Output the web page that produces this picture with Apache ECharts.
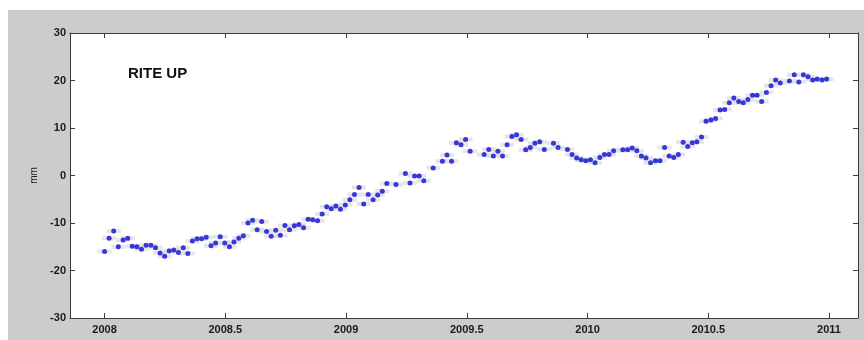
<!DOCTYPE html>
<html>
<head>
<meta charset="utf-8">
<script src="https://cdn.jsdelivr.net/npm/echarts@6/dist/echarts.min.js"></script>
<style>
  html, body { margin: 0; padding: 0; background: #ffffff; }
  #chart { width: 864px; height: 340px; }
</style>
</head>
<body>
<div id="chart"></div>
<script>
// Weekly GPS solution epochs (decimal years) for station RITE, vertical component
const epochs = [
  2008.000, 2008.019, 2008.038, 2008.057, 2008.077, 2008.096, 2008.115, 2008.134, 2008.153, 2008.172,
  2008.192, 2008.211, 2008.230, 2008.249, 2008.268, 2008.287, 2008.306, 2008.326, 2008.345, 2008.364,
  2008.383, 2008.402, 2008.421, 2008.441, 2008.460, 2008.479, 2008.498, 2008.517, 2008.536, 2008.556,
  2008.575, 2008.594, 2008.613, 2008.632, 2008.651, 2008.671, 2008.690, 2008.709, 2008.728, 2008.747,
  2008.766, 2008.786, 2008.805, 2008.824, 2008.843, 2008.862, 2008.882, 2008.901, 2008.920, 2008.939,
  2008.958, 2008.977, 2008.997, 2009.016, 2009.035, 2009.054, 2009.073, 2009.092, 2009.112, 2009.131,
  2009.150, 2009.169, 2009.207, 2009.246, 2009.265, 2009.284, 2009.303, 2009.322, 2009.361, 2009.399,
  2009.418, 2009.437, 2009.457, 2009.476, 2009.495, 2009.514, 2009.572, 2009.591, 2009.610, 2009.629,
  2009.648, 2009.667, 2009.687, 2009.706, 2009.725, 2009.744, 2009.763, 2009.782, 2009.802, 2009.821,
  2009.859, 2009.878, 2009.917, 2009.936, 2009.955, 2009.974, 2009.993, 2010.012, 2010.031, 2010.051,
  2010.070, 2010.089, 2010.108, 2010.146, 2010.166, 2010.185, 2010.204, 2010.223, 2010.242, 2010.261,
  2010.281, 2010.300, 2010.319, 2010.338, 2010.357, 2010.376, 2010.396, 2010.415, 2010.434, 2010.453,
  2010.472, 2010.491, 2010.511, 2010.530, 2010.549, 2010.568, 2010.587, 2010.606, 2010.626, 2010.645,
  2010.664, 2010.683, 2010.702, 2010.721, 2010.741, 2010.760, 2010.779, 2010.798, 2010.836, 2010.856,
  2010.875, 2010.894, 2010.913, 2010.932, 2010.951, 2010.971, 2010.990
];

// Vertical displacement (mm)
const upMM = [
  -16.0, -13.2, -11.7, -15.0, -13.6, -13.2, -14.9, -15.0, -15.5, -14.7,
  -14.7, -15.2, -16.3, -17.0, -15.9, -15.7, -16.2, -15.2, -16.4, -13.8,
  -13.3, -13.3, -13.0, -14.8, -14.2, -12.9, -14.2, -15.0, -14.0, -13.2,
  -12.7, -10.0, -9.4, -11.4, -9.7, -11.8, -12.8, -11.5, -12.6, -10.5,
  -11.4, -10.6, -10.3, -11.0, -9.2, -9.3, -9.5, -8.1, -6.6, -7.0,
  -6.4, -7.1, -6.2, -5.1, -4.0, -2.5, -6.0, -4.0, -5.1, -4.1,
  -3.3, -1.7, -1.9, 0.4, -1.6, -0.1, -0.1, -1.1, 1.6, 3.0,
  4.3, 3.0, 6.9, 6.5, 7.6, 5.1, 4.4, 5.5, 4.1, 5.1,
  4.1, 6.5, 8.2, 8.6, 7.6, 5.4, 5.9, 6.8, 7.1, 5.5,
  6.8, 5.9, 5.5, 4.4, 3.7, 3.3, 3.1, 3.3, 2.7, 3.8,
  4.4, 4.4, 5.2, 5.4, 5.4, 5.8, 5.2, 4.1, 3.7, 2.7,
  3.1, 3.1, 5.9, 4.1, 3.8, 4.4, 7.0, 6.1, 6.9, 7.1,
  8.1, 11.4, 11.7, 12.0, 13.8, 13.9, 15.3, 16.3, 15.6, 15.3,
  16.0, 16.9, 16.9, 15.6, 17.5, 18.9, 20.1, 19.5, 19.9, 21.2,
  19.7, 21.2, 20.8, 20.1, 20.3, 20.1, 20.3
];

const xTicks = [2008, 2008.5, 2009, 2009.5, 2010, 2010.5, 2011];
const yTicks = [-30, -20, -10, 0, 10, 20, 30];
const stationLabel = 'RITE UP';
const unitLabel = 'mm';

const points = epochs.map((t, i) => [t, upMM[i]]);

const axisColor = '#3c3c3c';
const font = '"Liberation Sans", Arial, sans-serif';

const chart = echarts.init(document.getElementById('chart'), null, { renderer: 'canvas' });

const xBase = {
  type: 'value',
  min: 2007.857,
  max: 2011.12,
  axisLine: { show: true, onZero: false, lineStyle: { color: axisColor, width: 1 } },
  axisTick: { show: true, inside: true, length: 5, customValues: xTicks, lineStyle: { color: axisColor } },
  splitLine: { show: false }
};
const yBase = {
  type: 'value',
  min: yTicks[0],
  max: yTicks[yTicks.length - 1],
  interval: 10,
  axisLine: { show: true, onZero: false, lineStyle: { color: axisColor, width: 1 } },
  axisTick: { show: true, inside: true, length: 5, lineStyle: { color: axisColor } },
  splitLine: { show: false }
};

chart.setOption({
  animation: false,
  backgroundColor: '#ffffff',
  graphic: [
    { type: 'rect', left: 8, top: 10, shape: { width: 856, height: 330 }, style: { fill: '#cccccc' }, z: -10 },
    {
      type: 'text', left: 128, top: 66, z: 10,
      style: { text: stationLabel, font: 'bold 15px ' + font, fill: '#111111' }
    }
  ],
  grid: {
    left: 70, top: 33, right: 6, bottom: 22,
    show: true, backgroundColor: '#ffffff', borderWidth: 0
  },
  xAxis: [
    Object.assign({}, xBase, {
      position: 'bottom',
      axisLabel: {
        show: true, customValues: xTicks, margin: 6,
        color: '#1a1a1a', fontFamily: font, fontSize: 11, fontWeight: 'bold',
        formatter: v => String(v)
      }
    }),
    Object.assign({}, xBase, { position: 'top', axisLabel: { show: false } })
  ],
  yAxis: [
    Object.assign({}, yBase, {
      position: 'left',
      name: unitLabel, nameLocation: 'middle', nameGap: 27,
      nameTextStyle: { color: '#1a1a1a', fontFamily: font, fontSize: 10 },
      axisLabel: {
        show: true, margin: 4,
        color: '#1a1a1a', fontFamily: font, fontSize: 11, fontWeight: 'bold'
      }
    }),
    Object.assign({}, yBase, { position: 'right', axisLabel: { show: false } })
  ],
  series: [
    {
      // light grey error whiskers behind each weekly solution
      type: 'scatter',
      data: points,
      symbol: 'rect',
      symbolSize: [14, 4],
      itemStyle: { color: '#dedee6' },
      silent: true,
      z: 1
    },
    {
      type: 'scatter',
      data: points,
      symbol: 'circle',
      symbolSize: 5,
      itemStyle: { color: '#0c0cd2' },
      z: 2
    }
  ]
});
</script>
</body>
</html>
